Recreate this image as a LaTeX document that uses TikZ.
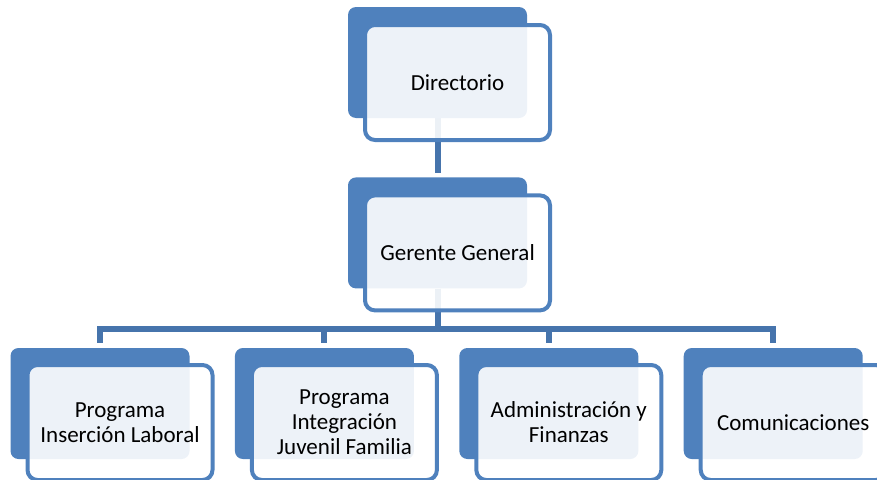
\documentclass[tikz,border=0pt]{standalone}
\usepackage{fontspec}
\setmainfont{Carlito}
\usetikzlibrary{positioning,backgrounds}
\definecolor{OrgBlue}{HTML}{4F81BD}
\definecolor{OrgLink}{HTML}{4674AC}

\begin{document}
\begin{tikzpicture}[x=1pt,y=1pt,node distance=45pt,
                    backbox/.style={fill=OrgBlue, rounded corners=8pt, inner sep=0pt,
                                    minimum width=179pt, minimum height=111pt},
                    frontbox/.style={draw=OrgBlue, line width=4pt, fill=white, fill opacity=0.9,
                                     text opacity=1, rounded corners=10pt, inner sep=0pt,
                                     minimum width=185pt, minimum height=115pt, align=center,
                                     font=\fontsize{23}{25}\selectfont},
                    link/.style={draw=OrgLink, line width=6pt, shorten >=5pt}]
\useasboundingbox (0,0) rectangle (877,-479);
\clip (0,0) rectangle (877,-479);
\node[backbox] (dirB) at (437.5,-62.5) {};
\node[backbox, below=59pt of dirB] (gerB) {};
\node[backbox] (insB) at (100,-403.5) {};
\node[backbox, right=of insB] (intB) {};
\node[backbox, right=of intB] (admB) {};
\node[backbox, right=of admB] (comB) {};
\node[frontbox] (dir) at ([shift={(20,-20)}]dirB.center) {Directorio};
\node[frontbox] (ger) at ([shift={(20,-20)}]gerB.center) {Gerente General};
\node[frontbox] (ins) at ([shift={(20,-19)}]insB.center) {Programa\\Inserción Laboral};
\node[frontbox] (int) at ([shift={(20,-19)}]intB.center) {Programa\\Integración\\Juvenil Familia};
\node[frontbox] (adm) at ([shift={(20,-19)}]admB.center) {Administración y\\Finanzas};
\node[frontbox] (com) at ([shift={(20,-19)}]comB.center) {Comunicaciones};
\begin{scope}[on background layer]
\draw[link, shorten >=4pt] (dirB.south) -- (gerB.north);
\draw[link] (gerB.south) -- ++(0,-40) -| (insB.north);
\draw[link] (gerB.south) -- ++(0,-40) -| (intB.north);
\draw[link] (gerB.south) -- ++(0,-40) -| (admB.north);
\draw[link] (gerB.south) -- ++(0,-40) -| (comB.north);
\end{scope}
\end{tikzpicture}
\end{document}
